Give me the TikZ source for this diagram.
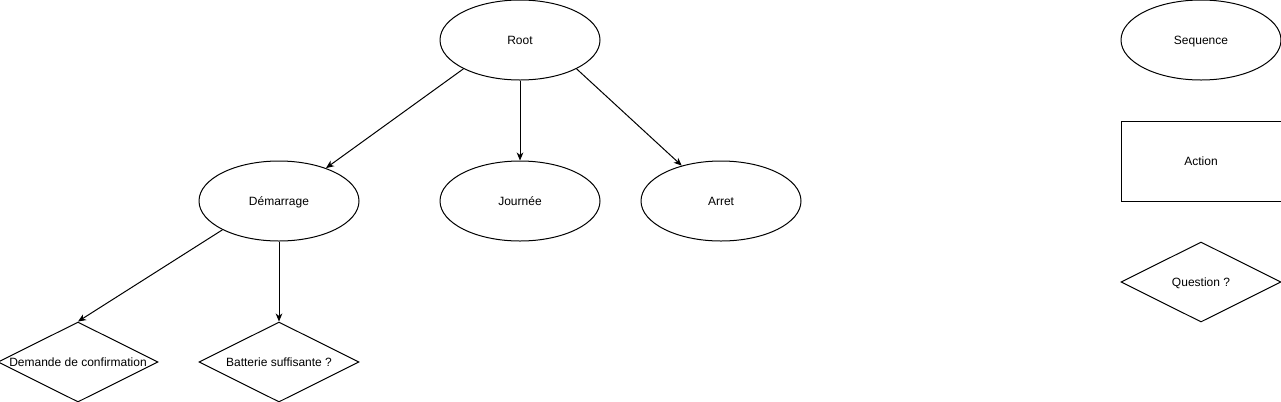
\documentclass[tikz,border=0pt]{standalone}
\usepackage{fontspec}
\setmainfont{Liberation Sans}
\usepackage{tikz}
\usetikzlibrary{arrows.meta,positioning,shapes.geometric}

\begin{document}
\begin{tikzpicture}[
    node distance=30pt and 30pt,
    every node/.style={font=\fontsize{9}{11}\selectfont, text height=6.5pt, text depth=0pt},
    seqbox/.style={draw, ellipse, line width=0.75pt, minimum width=120pt, minimum height=60pt, inner sep=0pt},
    actbox/.style={draw, rectangle, line width=0.75pt, minimum width=120pt, minimum height=60pt, inner sep=0pt},
    qbox/.style={draw, diamond, line width=0.75pt, minimum width=120pt, minimum height=60pt, inner sep=0pt, label={center:#1}},
    arrstyle/.style={-{Stealth[length=6pt, width=5pt, inset=1.8pt]}, line width=0.75pt}
]
\useasboundingbox (0,0) rectangle (960.75pt,-300.75pt);

% Tree
\node[seqbox] (root) at (390pt,-30pt) {Root};
\node[seqbox, below=60pt of root] (jour) {Journée};
\node[seqbox, left=60pt of jour] (dem) {Démarrage};
\node[seqbox, right=30pt of jour] (arret) {Arret};
\node[qbox={Batterie suffisante ?}, below=60pt of dem] (batt) {};
\node[qbox={Demande de confirmation}, left=30pt of batt] (conf) {};
\draw[arrstyle] (root.207) -- (dem.35);
\draw[arrstyle] (root.south) -- (jour.north);
\draw[arrstyle] (root.-27) -- (arret.138);
\draw[arrstyle] (dem.207) -- (conf.north);
\draw[arrstyle] (dem.south) -- (batt.north);

% Legend
\node[seqbox, right=390pt of root] (seq) {Sequence};
\node[actbox, below=of seq] (act) {Action};
\node[qbox={Question ?}, below=of act] (quest) {};
\end{tikzpicture}
\end{document}
